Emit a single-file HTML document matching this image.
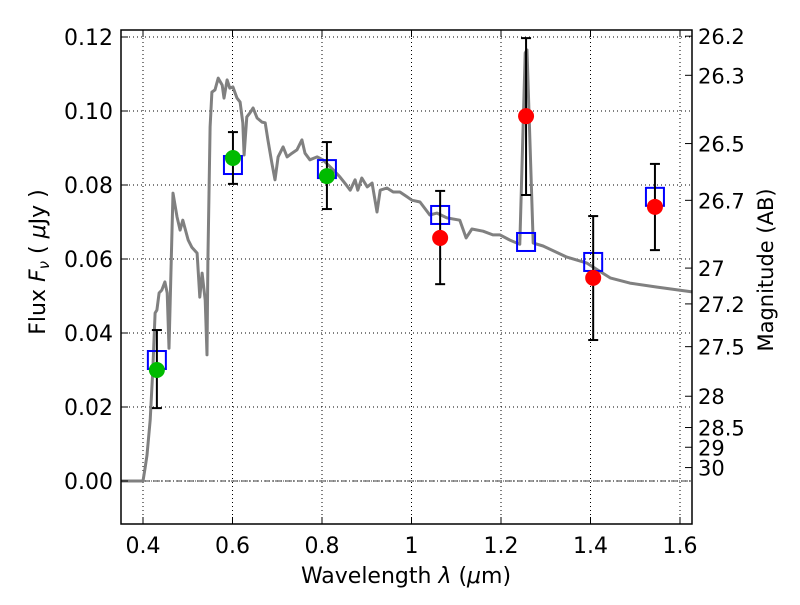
<!DOCTYPE html>
<html><head><meta charset="utf-8"><style>
body{margin:0;background:#fff;}
svg text{font-family:"DejaVu Sans","Liberation Sans",sans-serif;fill:#000;}
</style></head><body>
<svg id="chart" width="800" height="600" viewBox="0 0 800 600" xmlns="http://www.w3.org/2000/svg"></svg>
<script>
const specLam=[0.351,0.400,0.404,0.409,0.416,0.422,0.427,0.431,0.436,0.442,0.449,0.454,0.458,0.465,0.467,0.476,0.483,0.489,0.501,0.509,0.521,0.527,0.532,0.539,0.543,0.545,0.550,0.554,0.561,0.568,0.577,0.581,0.588,0.594,0.601,0.610,0.617,0.623,0.626,0.632,0.639,0.646,0.655,0.666,0.673,0.679,0.688,0.695,0.702,0.713,0.722,0.733,0.744,0.755,0.762,0.773,0.789,0.802,0.825,0.840,0.851,0.863,0.874,0.880,0.889,0.901,0.912,0.923,0.930,0.945,0.959,0.974,0.990,1.001,1.019,1.041,1.057,1.079,1.108,1.122,1.135,1.160,1.182,1.198,1.220,1.242,1.254,1.258,1.272,1.294,1.347,1.392,1.444,1.488,1.549,1.627];
const specFlux=[0,0,0.0030,0.0070,0.0165,0.0300,0.0454,0.0462,0.0508,0.0516,0.0538,0.0508,0.0359,0.0686,0.0778,0.0714,0.0678,0.0705,0.0651,0.0632,0.0616,0.0497,0.0562,0.0489,0.0341,0.0597,0.0957,0.1051,0.1057,0.1089,0.1070,0.1035,0.1084,0.1062,0.1065,0.1035,0.1024,0.0968,0.0881,0.0984,0.0995,0.1008,0.0981,0.0970,0.0968,0.0922,0.0859,0.0814,0.0876,0.0903,0.0876,0.0886,0.0895,0.0922,0.0886,0.0868,0.0876,0.0868,0.0841,0.0822,0.0805,0.0786,0.0814,0.0786,0.0819,0.0795,0.0805,0.0727,0.0786,0.0792,0.0781,0.0781,0.0768,0.0759,0.0754,0.0719,0.0724,0.0711,0.0705,0.0657,0.0681,0.0675,0.0665,0.0665,0.0651,0.0640,0.1157,0.1165,0.0643,0.0635,0.0605,0.0589,0.0549,0.0535,0.0524,0.0511];
const photLam=[0.431,0.601,0.811,1.064,1.256,1.406,1.544];
const modelFlux=[0.0327,0.0854,0.0843,0.0719,0.0646,0.0592,0.0768];
const obsFlux=[0.0300,0.0873,0.0824,0.0657,0.0986,0.0549,0.0741];
const errHi=[0.0408,0.0943,0.0916,0.0784,0.1197,0.0716,0.0857];
const errLo=[0.0197,0.0803,0.0735,0.0532,0.0773,0.0381,0.0624];
const obsColor=['#00bb00','#00bb00','#00bb00','red','red','red','red'];
const xTicks=[0.4,0.6,0.8,1.0,1.2,1.4,1.6];
const xTickLabels=['0.4','0.6','0.8','1','1.2','1.4','1.6'];
const yTicks=[0,0.02,0.04,0.06,0.08,0.10,0.12];
const yTickLabels=['0.00','0.02','0.04','0.06','0.08','0.10','0.12'];
const magTicks=[26.2,26.3,26.5,26.7,27,27.2,27.5,28,28.5,29,30];

const L=121,R=692,T=30,B=524;
const X=v=>143+(v-0.4)*447.5;
const Y=v=>481-v*3700;
const svg=document.getElementById('chart');
const NS='http://www.w3.org/2000/svg';
function mk(tag,attrs,parent){const e=document.createElementNS(NS,tag);for(const k in attrs)e.setAttribute(k,attrs[k]);(parent||svg).appendChild(e);return e;}

const grid=mk('g',{});


xTicks.forEach(v=>mk('line',{x1:X(v),x2:X(v),y1:T,y2:B,stroke:'#000','stroke-width':1,'stroke-dasharray':'1,3'},grid));
yTicks.forEach(v=>mk('line',{x1:L,x2:R,y1:Y(v),y2:Y(v),stroke:'#000','stroke-width':1,'stroke-dasharray':'1,3'},grid));
const zl=mk('line',{x1:L,x2:R,y1:Y(0),y2:Y(0),stroke:'#000','stroke-width':0.8,'stroke-dasharray':'6,2,1,2'});



let d='';specLam.forEach((l,i)=>{d+=(i?'L':'M')+X(l).toFixed(1)+','+Y(specFlux[i]).toFixed(1);});
const sp=mk('path',{d:d,fill:'none',stroke:'#808080','stroke-width':3,'stroke-linejoin':'round'});



photLam.forEach((l,i)=>{
  const g=mk('g',{});
  
  
  const x=X(l);
  mk('rect',{x:x-9,y:Y(modelFlux[i])-9,width:18,height:18,fill:'none',stroke:'#0000ff','stroke-width':2},g);
  mk('line',{x1:x,x2:x,y1:Y(errHi[i]),y2:Y(errLo[i]),stroke:'#000','stroke-width':2},g);
  mk('line',{x1:x-5,x2:x+5,y1:Y(errHi[i]),y2:Y(errHi[i]),stroke:'#000','stroke-width':2},g);
  mk('line',{x1:x-5,x2:x+5,y1:Y(errLo[i]),y2:Y(errLo[i]),stroke:'#000','stroke-width':2},g);
  mk('circle',{cx:x,cy:Y(obsFlux[i]),r:8,fill:obsColor[i]},g);
});

const fr=mk('rect',{x:L,y:T,width:R-L,height:B-T,fill:'none',stroke:'#000','stroke-width':1.5});



xTicks.forEach((v,i)=>{
  mk('line',{x1:X(v),x2:X(v),y1:B,y2:B-7,stroke:'#000'});
  mk('line',{x1:X(v),x2:X(v),y1:T,y2:T+7,stroke:'#000'});
  const t=mk('text',{x:X(v),y:B+29,'text-anchor':'middle','font-size':22});
  t.textContent=xTickLabels[i];
  
  
});
yTicks.forEach((v,i)=>{
  mk('line',{x1:L,x2:L+7,y1:Y(v),y2:Y(v),stroke:'#000'});
  const t=mk('text',{x:L-8,y:Y(v)+8,'text-anchor':'end','font-size':22});
  t.textContent=yTickLabels[i];
  
  
});
magTicks.forEach(m=>{
  const f=Math.pow(10,(23.9-m)/2.5);
  const y=Y(f);
  mk('line',{x1:R,x2:R-7,y1:y,y2:y,stroke:'#000'});
  const t=mk('text',{x:R+6,y:y+8,'text-anchor':'start','font-size':21});
  t.textContent=String(m);
  
  
});
</script>
<svg width="800" height="600" style="position:absolute;left:0;top:0" xmlns="http://www.w3.org/2000/svg">
<text x="406" y="583" text-anchor="middle" font-size="22" font-family="DejaVu Sans, Liberation Sans, sans-serif">Wavelength  <tspan font-style="italic">λ</tspan> (<tspan font-style="italic">μ</tspan>m)</text>
<text transform="translate(45,262) rotate(-90)" text-anchor="middle" font-size="22" font-family="DejaVu Sans, Liberation Sans, sans-serif">Flux  <tspan font-style="italic">F</tspan><tspan font-style="italic" font-size="15" dy="4">ν</tspan><tspan dy="-4">  (  </tspan><tspan font-style="italic">μ</tspan>Jy )</text>
<text transform="translate(773,270) rotate(-90)" text-anchor="middle" font-size="21" font-family="DejaVu Sans, Liberation Sans, sans-serif">Magnitude (AB)</text>
</svg>
</body></html>
